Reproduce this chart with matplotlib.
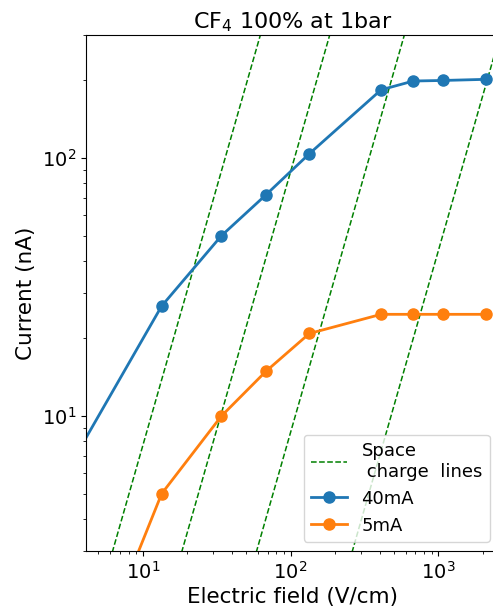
import numpy as np
import matplotlib
matplotlib.use("Agg")
import matplotlib.pyplot as plt

# electric field (V/cm) and current (nA)
field_40 = [3.4, 13.4, 34, 68, 134, 410, 678, 1080, 2100]
field_5 = [6.8, 13.4, 34, 68, 134, 410, 678, 1080, 2100]
i_40mA = [6.8, 26.7, 50, 72, 104, 184, 199, 200, 202]
i_5mA = [1.9, 5.0, 10.0, 14.9, 20.9, 24.8, 24.8, 24.8, 24.8]

# space charge lines, I = k * E^2
k_space = [0.077, 0.00886, 0.000865, 0.0000437]

fig = plt.figure(figsize=(4.93, 6.06), dpi=100)
ax = fig.add_axes([0.1744, 0.0908, 0.838, 0.8514])

e = np.logspace(0, 4, 200)
for n, k in enumerate(k_space):
    ax.plot(e, k * e**2, '--', color='green', lw=1.1,
            label='Space\n charge  lines' if n == 0 else None)

ax.plot(field_40, i_40mA, '-o', color='#1f77b4', lw=2, ms=8, label='40mA')
ax.plot(field_5, i_5mA, '-o', color='#ff7f0e', lw=2, ms=8, label='5mA')

ax.set_xscale('log')
ax.set_yscale('log')
ax.set_xlim(4.12, 2580)
ax.set_ylim(3, 300)

ax.set_title('CF$_4$ 100% at 1bar', fontsize=16, pad=5)
ax.set_xlabel('Electric field (V/cm)', fontsize=15.5, labelpad=3)
ax.set_ylabel('Current (nA)', fontsize=15.5)
ax.tick_params(labelsize=14)
ax.legend(loc='lower right', fontsize=13)

fig.savefig('out.png', dpi=100)
